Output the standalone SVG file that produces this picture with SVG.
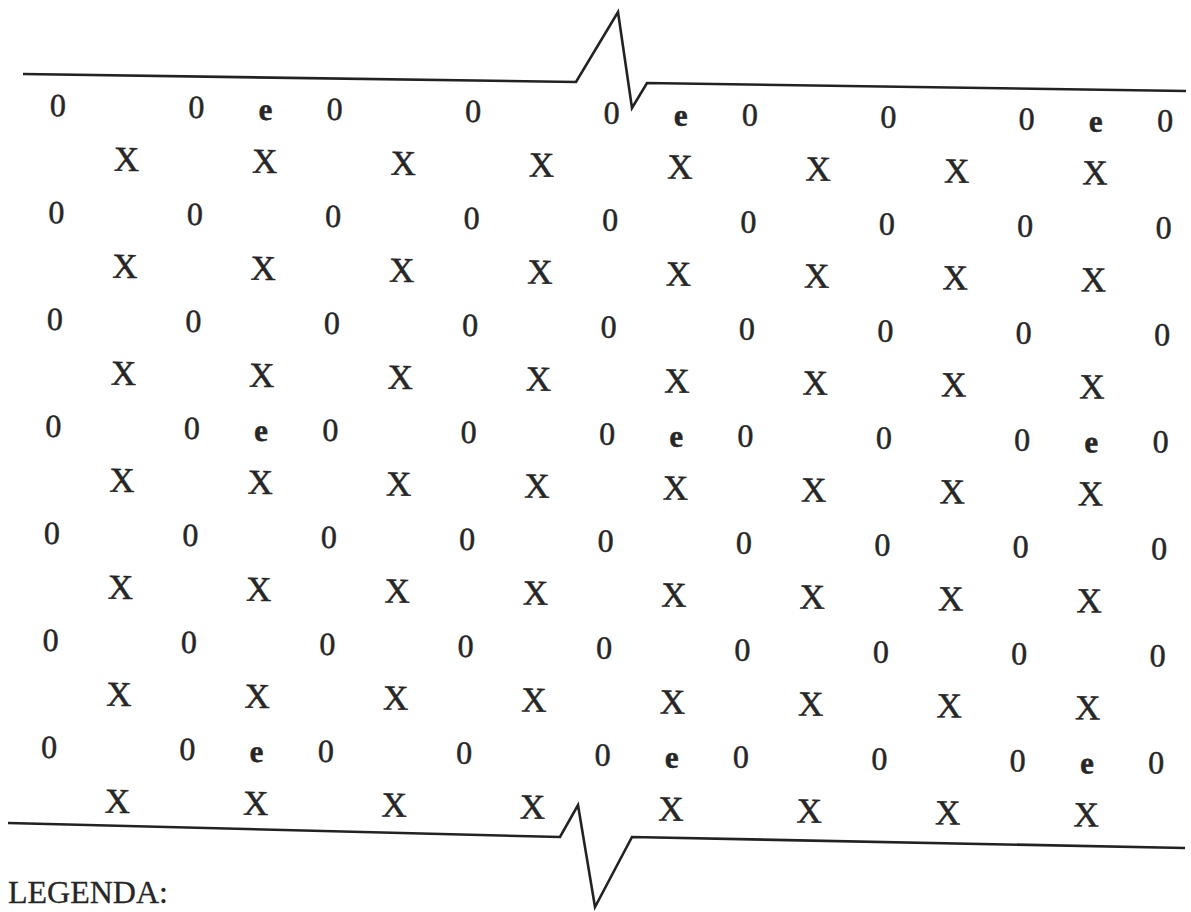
<svg xmlns="http://www.w3.org/2000/svg" width="1191" height="912" viewBox="0 0 1191 912">
<style>
  text { font-family: "Liberation Serif", "Times New Roman", serif; fill: #262626; stroke: #262626; stroke-width: 0.5; text-anchor: middle; }
  .z { font-size: 32px; }
  .x { font-size: 35px; }
  .e { font-size: 31px; font-weight: bold; }
  .leg { font-size: 32px; text-anchor: start; stroke-width: 0.3; }
  .brk { fill: none; stroke: #222; stroke-width: 2.6; stroke-linejoin: miter; }
</style>
<rect width="1191" height="912" fill="#ffffff"/>
<g id="connectors">
  <path class="brk" d="M23,74 L576,82 L618,12 L632,108 L647,83 L1186,91"/>
  <path class="brk" d="M8,823 L560,837 L578,805 L595,907 L632,837 L1185,848"/>
</g>
<g id="grid" transform="rotate(0.8 58 105)">
  <g id="row-z1">
    <text class="z" x="58" y="116">0</text><text class="z" x="196.4" y="116">0</text><text class="e" x="265.6" y="117">e</text><text class="z" x="334.8" y="116">0</text><text class="z" x="473.2" y="116">0</text><text class="z" x="611.6" y="116">0</text><text class="e" x="680.8" y="117">e</text><text class="z" x="750" y="116">0</text><text class="z" x="888.4" y="116">0</text><text class="z" x="1026.8" y="116">0</text><text class="e" x="1096" y="117">e</text><text class="z" x="1165.2" y="116">0</text>
  </g>
  <g id="row-x1">
    <text class="x" x="127.2" y="170">X</text><text class="x" x="265.6" y="170">X</text><text class="x" x="404" y="170">X</text><text class="x" x="542.4" y="170">X</text><text class="x" x="680.8" y="170">X</text><text class="x" x="819.2" y="170">X</text><text class="x" x="957.6" y="170">X</text><text class="x" x="1096" y="170">X</text>
  </g>
  <g id="row-z2">
    <text class="z" x="58" y="223">0</text><text class="z" x="196.4" y="223">0</text><text class="z" x="334.8" y="223">0</text><text class="z" x="473.2" y="223">0</text><text class="z" x="611.6" y="223">0</text><text class="z" x="750" y="223">0</text><text class="z" x="888.4" y="223">0</text><text class="z" x="1026.8" y="223">0</text><text class="z" x="1165.2" y="223">0</text>
  </g>
  <g id="row-x2">
    <text class="x" x="127.2" y="277">X</text><text class="x" x="265.6" y="277">X</text><text class="x" x="404" y="277">X</text><text class="x" x="542.4" y="277">X</text><text class="x" x="680.8" y="277">X</text><text class="x" x="819.2" y="277">X</text><text class="x" x="957.6" y="277">X</text><text class="x" x="1096" y="277">X</text>
  </g>
  <g id="row-z3">
    <text class="z" x="58" y="330">0</text><text class="z" x="196.4" y="330">0</text><text class="z" x="334.8" y="330">0</text><text class="z" x="473.2" y="330">0</text><text class="z" x="611.6" y="330">0</text><text class="z" x="750" y="330">0</text><text class="z" x="888.4" y="330">0</text><text class="z" x="1026.8" y="330">0</text><text class="z" x="1165.2" y="330">0</text>
  </g>
  <g id="row-x3">
    <text class="x" x="127.2" y="384">X</text><text class="x" x="265.6" y="384">X</text><text class="x" x="404" y="384">X</text><text class="x" x="542.4" y="384">X</text><text class="x" x="680.8" y="384">X</text><text class="x" x="819.2" y="384">X</text><text class="x" x="957.6" y="384">X</text><text class="x" x="1096" y="384">X</text>
  </g>
  <g id="row-z4">
    <text class="z" x="58" y="437">0</text><text class="z" x="196.4" y="437">0</text><text class="e" x="265.6" y="438">e</text><text class="z" x="334.8" y="437">0</text><text class="z" x="473.2" y="437">0</text><text class="z" x="611.6" y="437">0</text><text class="e" x="680.8" y="438">e</text><text class="z" x="750" y="437">0</text><text class="z" x="888.4" y="437">0</text><text class="z" x="1026.8" y="437">0</text><text class="e" x="1096" y="438">e</text><text class="z" x="1165.2" y="437">0</text>
  </g>
  <g id="row-x4">
    <text class="x" x="127.2" y="491">X</text><text class="x" x="265.6" y="491">X</text><text class="x" x="404" y="491">X</text><text class="x" x="542.4" y="491">X</text><text class="x" x="680.8" y="491">X</text><text class="x" x="819.2" y="491">X</text><text class="x" x="957.6" y="491">X</text><text class="x" x="1096" y="491">X</text>
  </g>
  <g id="row-z5">
    <text class="z" x="58" y="544">0</text><text class="z" x="196.4" y="544">0</text><text class="z" x="334.8" y="544">0</text><text class="z" x="473.2" y="544">0</text><text class="z" x="611.6" y="544">0</text><text class="z" x="750" y="544">0</text><text class="z" x="888.4" y="544">0</text><text class="z" x="1026.8" y="544">0</text><text class="z" x="1165.2" y="544">0</text>
  </g>
  <g id="row-x5">
    <text class="x" x="127.2" y="598">X</text><text class="x" x="265.6" y="598">X</text><text class="x" x="404" y="598">X</text><text class="x" x="542.4" y="598">X</text><text class="x" x="680.8" y="598">X</text><text class="x" x="819.2" y="598">X</text><text class="x" x="957.6" y="598">X</text><text class="x" x="1096" y="598">X</text>
  </g>
  <g id="row-z6">
    <text class="z" x="58" y="651">0</text><text class="z" x="196.4" y="651">0</text><text class="z" x="334.8" y="651">0</text><text class="z" x="473.2" y="651">0</text><text class="z" x="611.6" y="651">0</text><text class="z" x="750" y="651">0</text><text class="z" x="888.4" y="651">0</text><text class="z" x="1026.8" y="651">0</text><text class="z" x="1165.2" y="651">0</text>
  </g>
  <g id="row-x6">
    <text class="x" x="127.2" y="705">X</text><text class="x" x="265.6" y="705">X</text><text class="x" x="404" y="705">X</text><text class="x" x="542.4" y="705">X</text><text class="x" x="680.8" y="705">X</text><text class="x" x="819.2" y="705">X</text><text class="x" x="957.6" y="705">X</text><text class="x" x="1096" y="705">X</text>
  </g>
  <g id="row-z7">
    <text class="z" x="58" y="758">0</text><text class="z" x="196.4" y="758">0</text><text class="e" x="265.6" y="759">e</text><text class="z" x="334.8" y="758">0</text><text class="z" x="473.2" y="758">0</text><text class="z" x="611.6" y="758">0</text><text class="e" x="680.8" y="759">e</text><text class="z" x="750" y="758">0</text><text class="z" x="888.4" y="758">0</text><text class="z" x="1026.8" y="758">0</text><text class="e" x="1096" y="759">e</text><text class="z" x="1165.2" y="758">0</text>
  </g>
  <g id="row-x7">
    <text class="x" x="127.2" y="812">X</text><text class="x" x="265.6" y="812">X</text><text class="x" x="404" y="812">X</text><text class="x" x="542.4" y="812">X</text><text class="x" x="680.8" y="812">X</text><text class="x" x="819.2" y="812">X</text><text class="x" x="957.6" y="812">X</text><text class="x" x="1096" y="812">X</text>
  </g>
</g>
<g id="legend">
  <text class="leg" x="8" y="903">LEGENDA:</text>
</g>
</svg>
